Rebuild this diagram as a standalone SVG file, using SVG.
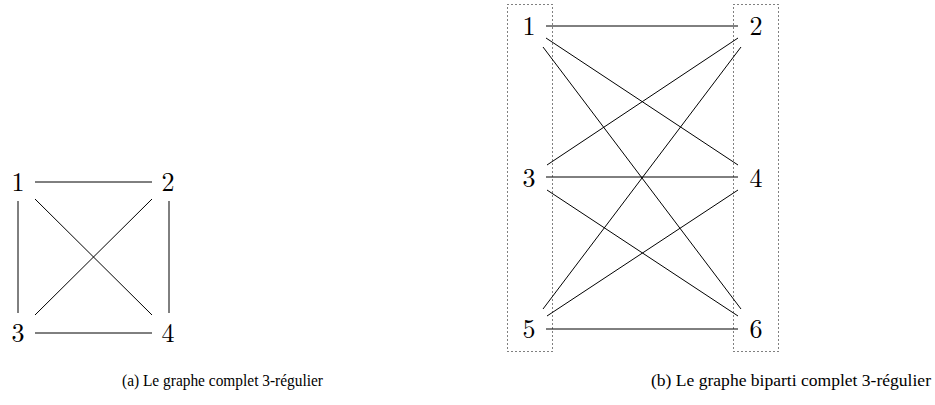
<svg xmlns="http://www.w3.org/2000/svg" width="935" height="405" viewBox="0 0 935 405">
<style>
.lbl{font-family:"Latin Modern Roman","DejaVu Serif","Liberation Serif",serif;font-size:26px;text-anchor:middle;fill:#000}
.cap{font-family:"Liberation Serif","DejaVu Serif",serif;font-size:16px;fill:#000}
.e{stroke:#000;stroke-width:1;fill:none}
.box{stroke:#000;stroke-width:1;fill:none;stroke-dasharray:1 3}
</style>
<rect width="935" height="405" fill="#fff"/>
<g id="connectors">
<line class="e" x1="35" y1="182" x2="152" y2="182"/>
<line class="e" x1="35" y1="333" x2="152" y2="333"/>
<line class="e" x1="18" y1="201" x2="18" y2="313"/>
<line class="e" x1="169" y1="201" x2="169" y2="313"/>
<line class="e" x1="35" y1="199" x2="152" y2="315"/>
<line class="e" x1="152" y1="199" x2="35" y2="315"/>
<line class="e" x1="546" y1="26" x2="738" y2="26"/>
<line class="e" x1="546" y1="177" x2="738" y2="177"/>
<line class="e" x1="546" y1="329" x2="738" y2="329"/>
<line class="e" x1="546" y1="38" x2="738" y2="165"/>
<line class="e" x1="543" y1="47" x2="741" y2="309"/>
<line class="e" x1="738" y1="38" x2="547" y2="165"/>
<line class="e" x1="741" y1="47" x2="543" y2="309"/>
<line class="e" x1="547" y1="190" x2="738" y2="316"/>
<line class="e" x1="738" y1="190" x2="547" y2="316"/>
</g>
<g id="partA"><rect class="box" x="507.5" y="4.5" width="45" height="347"/></g>
<g id="partB"><rect class="box" x="733.5" y="4.5" width="45" height="347"/></g>
<g id="a1"><text class="lbl" x="18" y="191">1</text></g>
<g id="a2"><text class="lbl" x="168" y="191">2</text></g>
<g id="a3"><text class="lbl" x="18" y="342">3</text></g>
<g id="a4"><text class="lbl" x="168" y="342">4</text></g>
<g id="b1"><text class="lbl" x="529" y="35">1</text></g>
<g id="b2"><text class="lbl" x="756" y="35">2</text></g>
<g id="b3"><text class="lbl" x="529" y="187">3</text></g>
<g id="b4"><text class="lbl" x="756" y="187">4</text></g>
<g id="b5"><text class="lbl" x="529" y="338">5</text></g>
<g id="b6"><text class="lbl" x="756" y="338">6</text></g>
<text class="cap" x="122" y="386" textLength="201" lengthAdjust="spacingAndGlyphs">(a) Le graphe complet 3-régulier</text>
<text class="cap" x="651" y="386" textLength="280" lengthAdjust="spacingAndGlyphs">(b) Le graphe biparti complet 3-régulier</text>
</svg>
